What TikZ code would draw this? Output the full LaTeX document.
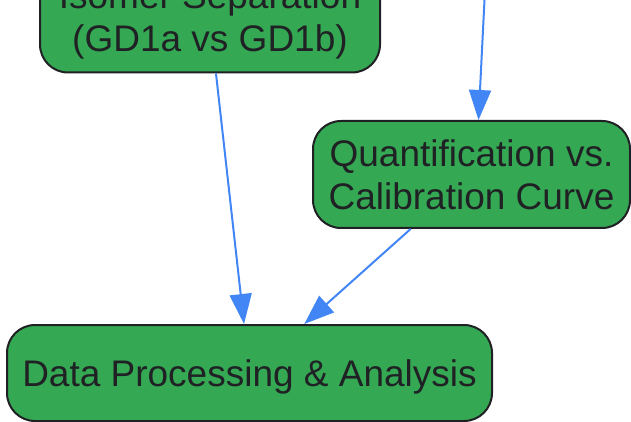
\documentclass[tikz,border=0pt]{standalone}
\usepackage{fontspec}
\setmainfont{Liberation Sans}
\usetikzlibrary{arrows.meta}
\definecolor{stagegreen}{HTML}{34A853}
\definecolor{flowblue}{HTML}{4285F4}
\definecolor{inkgray}{HTML}{202124}

\begin{document}
\begin{tikzpicture}[->,>={Triangle[length=15pt,width=11pt]},node distance=77.25pt,line width=1pt,
  stage/.style={draw=inkgray,fill=stagegreen,rounded corners=14pt,align=center,text=inkgray,font=\fontsize{18.5}{21.5}\selectfont},
  flow/.style={flowblue}]

\useasboundingbox (0,0) rectangle (315.5pt,-211pt);

\node[stage,minimum width=170pt,minimum height=52.5pt](iso) at (105pt,-10pt){Isomer Separation\\(GD1a vs GD1b)};
\node[stage,minimum width=158.5pt,minimum height=53.5pt](quant)[below of=iso,xshift=130.75pt]{Quantification vs.\\Calibration Curve};
\node[stage,minimum width=242.5pt,minimum height=48pt,text depth=0pt](data)[below of=iso,node distance=176.5pt,xshift=19.75pt]{Data Processing \& Analysis};
\coordinate(prev) at (242.75pt,10pt);

\path[flow](iso)edge(data)
	 (quant)edge(data)
	 (prev)edge([xshift=3.5pt]quant.north)
	 ;

\end{tikzpicture}
\end{document}
